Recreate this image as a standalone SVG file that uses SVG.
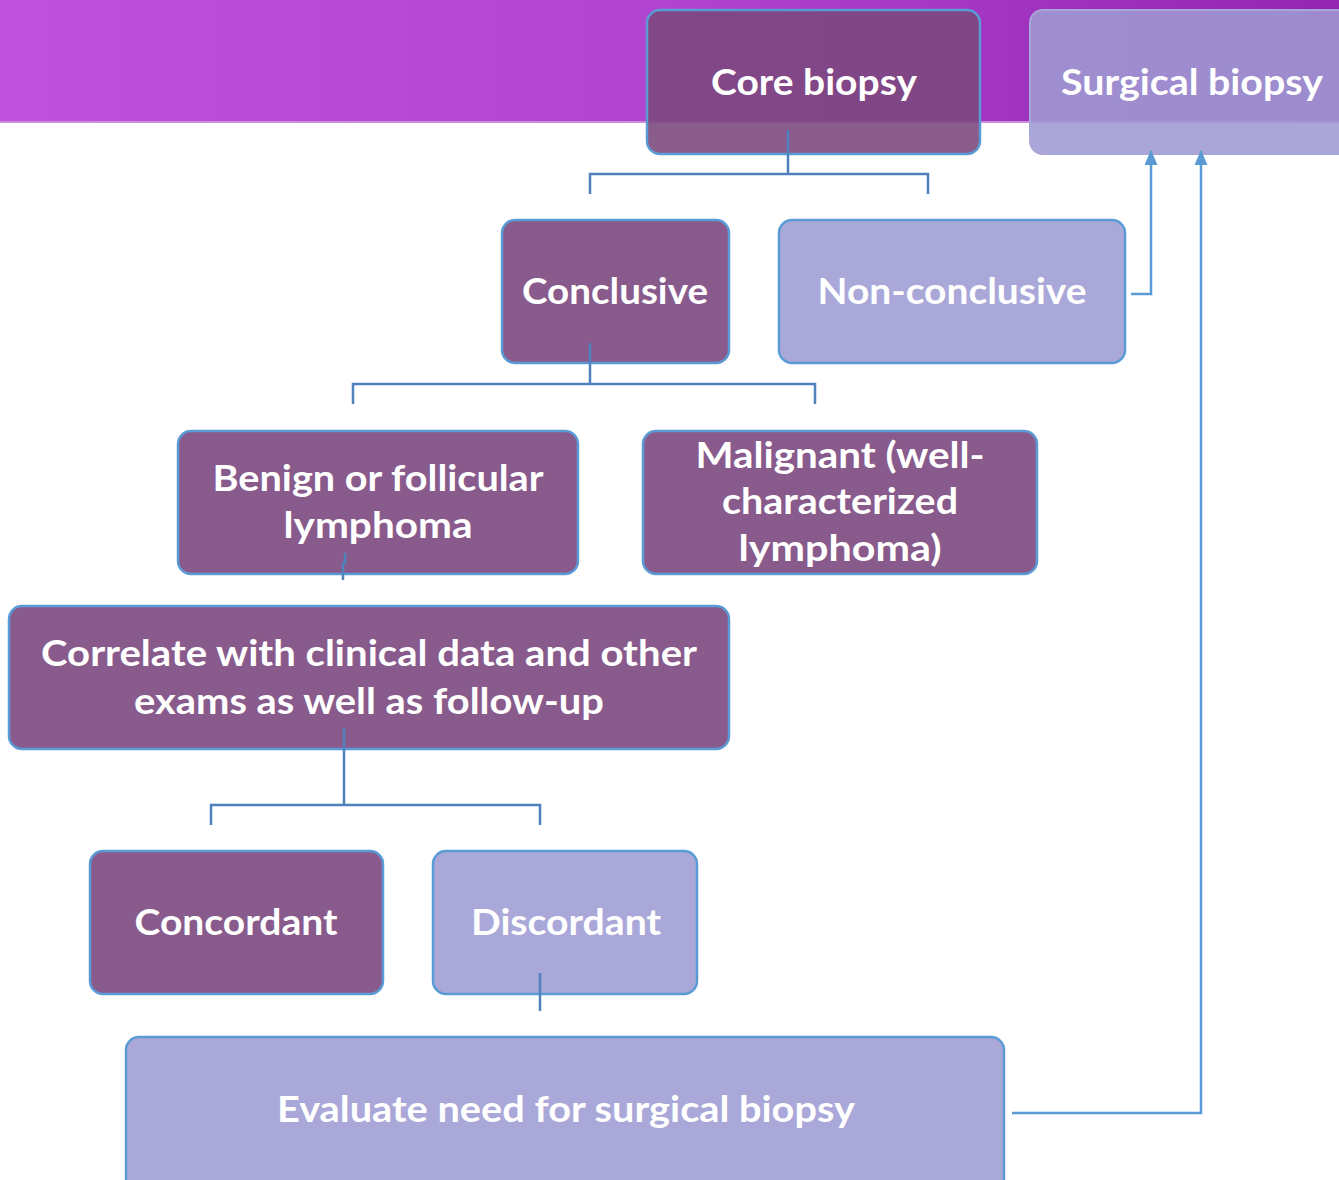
<svg xmlns="http://www.w3.org/2000/svg" width="1339" height="1180" viewBox="0 0 1339 1180">
<defs>
<linearGradient id="banner" x1="0" y1="0" x2="1" y2="0">
<stop offset="0" stop-color="#c050dd"/>
<stop offset="0.5" stop-color="#b044cf"/>
<stop offset="1" stop-color="#9226b2"/>
</linearGradient>
<marker id="arr" viewBox="0 0 15 13" refX="14" refY="6.5" markerWidth="15" markerHeight="13" markerUnits="userSpaceOnUse" orient="auto">
<path d="M0,0 L15,6.5 L0,13 Z" fill="#5b9bd5"/>
</marker>
<style>
.dark{fill:#7c487e;fill-opacity:0.89;stroke:#5b9bd5;stroke-width:2.5}
.dk{fill:#885b8c;stroke:#5b9bd5;stroke-width:2.5}
.lt{fill:#aaa8d9;stroke:#5b9bd5;stroke-width:2.5}
.sg{fill:#9e9ad2;fill-opacity:0.88;stroke:#a9a6d8;stroke-width:2}
.t{font-family:Lato,"Open Sans",sans-serif;font-weight:bold;font-size:37px;fill:#ffffff;text-anchor:middle}
.ln{fill:none;stroke:#4f81bd;stroke-width:2.5}
.ar{fill:none;stroke:#5b9bd5;stroke-width:2.5}
</style>
</defs>
<rect x="0" y="0" width="1339" height="1180" fill="#ffffff"/>
<rect x="0" y="0" width="1339" height="122" fill="url(#banner)"/>
<rect x="0" y="121" width="1339" height="2" fill="#c98fd8"/>
<g id="core-biopsy">
<rect class="dark" x="647" y="10" width="333" height="144" rx="13"/>
<text class="t" x="814" y="95" textLength="206" lengthAdjust="spacingAndGlyphs">Core biopsy</text>
</g>
<g id="surgical-biopsy">
<rect class="sg" x="1030" y="10" width="330" height="144" rx="13"/>
<text class="t" x="1192" y="95" textLength="262" lengthAdjust="spacingAndGlyphs">Surgical biopsy</text>
</g>
<g id="conclusive">
<rect class="dk" x="502" y="220" width="227" height="143" rx="13"/>
<text class="t" x="615" y="304" textLength="186" lengthAdjust="spacingAndGlyphs">Conclusive</text>
</g>
<g id="non-conclusive">
<rect class="lt" x="779" y="220" width="346" height="143" rx="13"/>
<text class="t" x="952" y="304" textLength="269" lengthAdjust="spacingAndGlyphs">Non-conclusive</text>
</g>
<g id="benign">
<rect class="dk" x="178" y="431" width="400" height="143" rx="13"/>
<text class="t" x="378" y="491" textLength="331" lengthAdjust="spacingAndGlyphs">Benign or follicular</text>
<text class="t" x="378" y="538" textLength="189" lengthAdjust="spacingAndGlyphs">lymphoma</text>
</g>
<g id="malignant">
<rect class="dk" x="643" y="431" width="394" height="143" rx="13"/>
<text class="t" x="840" y="468" textLength="289" lengthAdjust="spacingAndGlyphs">Malignant (well-</text>
<text class="t" x="840" y="514" textLength="236" lengthAdjust="spacingAndGlyphs">characterized</text>
<text class="t" x="840" y="561" textLength="203" lengthAdjust="spacingAndGlyphs">lymphoma)</text>
</g>
<g id="correlate">
<rect class="dk" x="9" y="606" width="720" height="143" rx="13"/>
<text class="t" x="369" y="666" textLength="656" lengthAdjust="spacingAndGlyphs">Correlate with clinical data and other</text>
<text class="t" x="369" y="714" textLength="470" lengthAdjust="spacingAndGlyphs">exams as well as follow-up</text>
</g>
<g id="concordant">
<rect class="dk" x="90" y="851" width="293" height="143" rx="13"/>
<text class="t" x="236" y="935" textLength="203" lengthAdjust="spacingAndGlyphs">Concordant</text>
</g>
<g id="discordant">
<rect class="lt" x="433" y="851" width="264" height="143" rx="13"/>
<text class="t" x="566" y="935" textLength="190" lengthAdjust="spacingAndGlyphs">Discordant</text>
</g>
<g id="evaluate">
<rect class="lt" x="126" y="1037" width="878" height="160" rx="13"/>
<text class="t" x="566" y="1122" textLength="578" lengthAdjust="spacingAndGlyphs">Evaluate need for surgical biopsy</text>
</g>
<g id="connectors">
<path class="ln" d="M788,130 V174 M590,194 V174 H928 V194"/>
<path class="ln" d="M590,343 V384 M353,404 V384 H815 V404"/>
<path class="ln" d="M345,553 V563 H343 V580"/>
<path class="ln" d="M344,728 V805 M211,825 V805 H540 V825"/>
<path class="ln" d="M540,973 V1011"/>
<path class="ar" d="M1131,294 H1151 V151" marker-end="url(#arr)"/>
<path class="ar" d="M1012,1113 H1201 V151" marker-end="url(#arr)"/>
</g>
</svg>
